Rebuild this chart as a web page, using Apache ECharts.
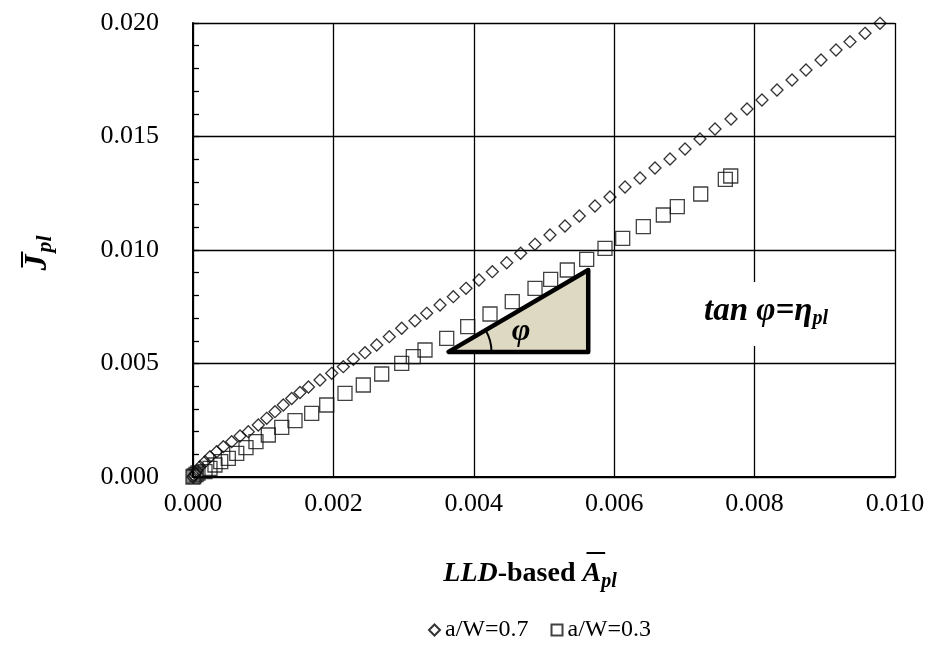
<!DOCTYPE html>
<html><head><meta charset="utf-8">
<script src="https://cdn.jsdelivr.net/npm/echarts/dist/echarts.min.js"></script>
<style>html,body{margin:0;padding:0;background:#fff}#c{width:931px;height:653px}</style>
</head><body><div id="c"></div>
<script>
const xTickLabels = ['0.000','0.002','0.004','0.006','0.008','0.010'];
const yTickLabels = ['0.000','0.005','0.010','0.015','0.020'];
const seriesNames = ['a/W=0.7','a/W=0.3'];
const aw07X = [0, 0.000014, 0.000036, 0.000057, 0.0001, 0.000171, 0.000242, 0.000338, 0.000432, 0.000551, 0.00067, 0.000788, 0.00093, 0.00105, 0.001168, 0.001286, 0.001406, 0.001524, 0.001645, 0.001809, 0.001976, 0.002141, 0.002284, 0.00245, 0.002617, 0.002796, 0.002973, 0.003162, 0.003329, 0.003519, 0.003708, 0.003889, 0.004074, 0.004264, 0.004469, 0.004668, 0.004872, 0.005085, 0.005299, 0.005503, 0.005726, 0.00594, 0.006154, 0.006368, 0.006581, 0.006795, 0.007009, 0.007222, 0.007436, 0.007664, 0.007892, 0.008105, 0.008319, 0.008533, 0.008732, 0.008946, 0.00916, 0.009359, 0.009573, 0.009786];
const aw07Y = [0, 0.000066, 0.000154, 0.000264, 0.000454, 0.000674, 0.000894, 0.001115, 0.001335, 0.001555, 0.001806, 0.001996, 0.002291, 0.002586, 0.002877, 0.003172, 0.003458, 0.003722, 0.003965, 0.004273, 0.004568, 0.004859, 0.005185, 0.005476, 0.005815, 0.006181, 0.006551, 0.006885, 0.007211, 0.007577, 0.007943, 0.008313, 0.008678, 0.009044, 0.00944, 0.009855, 0.010251, 0.010661, 0.011057, 0.011498, 0.011938, 0.012335, 0.012775, 0.013172, 0.013612, 0.014009, 0.014449, 0.01489, 0.01533, 0.015771, 0.016211, 0.016608, 0.017048, 0.017489, 0.01793, 0.01837, 0.018811, 0.019176, 0.019546, 0.019987];
const aw03X = [0, 0.000014, 0.000043, 0.000071, 0.000171, 0.000242, 0.000313, 0.000395, 0.000503, 0.000623, 0.000755, 0.000897, 0.001073, 0.001264, 0.001453, 0.001691, 0.001905, 0.002165, 0.002426, 0.002688, 0.002973, 0.003138, 0.003305, 0.003614, 0.003913, 0.004231, 0.004548, 0.004872, 0.005095, 0.005332, 0.005608, 0.005869, 0.006121, 0.006415, 0.0067, 0.006899, 0.007232, 0.007583, 0.00766];
const aw03Y = [0, 0.000044, 0.00011, 0.000176, 0.000233, 0.000383, 0.000529, 0.000674, 0.000824, 0.001044, 0.001291, 0.001555, 0.00185, 0.002189, 0.00248, 0.002806, 0.003172, 0.003687, 0.004053, 0.004537, 0.005009, 0.0053, 0.005595, 0.00611, 0.006621, 0.007181, 0.007722, 0.008313, 0.008709, 0.009119, 0.00959, 0.010075, 0.010515, 0.011026, 0.011542, 0.011907, 0.012467, 0.013115, 0.01326];
const triangleX = [0.00364, 0.00563, 0.00563];
const triangleY = [0.00551, 0.00551, 0.00912];

const FF = '"Liberation Serif","Times New Roman",serif';
const mctx = document.createElement('canvas').getContext('2d');
function mw(font, t){ mctx.font = font; return mctx.measureText(t).width; }
function fnt(style, weight, size){ return style + ' ' + weight + ' ' + size + 'px ' + FF; }

function lineGraphics(parts, cx, cy, overY){
  let total = 0;
  parts.forEach(p=>{ p.width = mw(fnt(p.st,p.w,p.s), p.t); total += p.width; });
  let x = cx - total/2;
  const out = [];
  parts.forEach(p=>{
    out.push({type:'text', x:x, y:cy + p.dy, style:{text:p.t, fontFamily:FF, fontSize:p.s, fontWeight:p.w, fontStyle:p.st, fill:'#000', align:'left', verticalAlign:'middle'}});
    if (p.over) out.push({type:'rect', shape:{x:x+4, y:cy - overY, width:p.width, height:2}, style:{fill:'#000'}});
    x += p.width;
  });
  return out;
}
const xTitle = lineGraphics([
  {t:'LLD', st:'italic', w:'bold', s:28, dy:0},
  {t:'-based ', st:'normal', w:'bold', s:28, dy:0},
  {t:'A', st:'italic', w:'bold', s:28, dy:0, over:true},
  {t:'pl', st:'italic', w:'bold', s:20, dy:8}
], 530, 574, 22);
const tanText = lineGraphics([
  {t:'tan φ=η', st:'italic', w:'bold', s:33, dy:0},
  {t:'pl', st:'italic', w:'bold', s:20, dy:8}
], 766, 311, 0);

// y-axis title (rotated)
const jF = fnt('italic','bold',32), plF = fnt('italic','bold',22);
const wJ = mw(jF,'J'), wPl = mw(plF,'pl');
const yTotal = wJ + wPl + 2;
const yTitle = {type:'group', x:38, y:253 + yTotal/2, rotation: Math.PI/2, children:[
  {type:'text', x:0, y:0, style:{text:'J', fontFamily:FF, fontSize:32, fontWeight:'bold', fontStyle:'italic', fill:'#000', align:'left', verticalAlign:'middle'}},
  {type:'text', x:wJ+2, y:7, style:{text:'pl', fontFamily:FF, fontSize:22, fontWeight:'bold', fontStyle:'italic', fill:'#000', align:'left', verticalAlign:'middle'}},
  {type:'rect', shape:{x:3, y:-17, width:wJ, height:2}, style:{fill:'#000'}}
]};

const chart = echarts.init(document.getElementById('c'), null, {renderer:'canvas'});
const axisFont = {fontFamily:FF, fontSize:26, color:'#000'};
chart.setOption({
  animation:false,
  backgroundColor:'#fff',
  grid:{left:193, right:36, top:23, bottom:176},
  xAxis:{type:'value', min:0, max:0.01, interval:0.002,
    axisLine:{show:true, lineStyle:{color:'#000', width:2}},
    axisTick:{show:false},
    splitLine:{show:true, lineStyle:{color:'#000', width:1.3}},
    axisLabel:{...axisFont, margin:14, formatter:v=>xTickLabels[Math.round(v/0.002)]}
  },
  yAxis:{type:'value', min:0, max:0.02, interval:0.005,
    axisLine:{show:true, lineStyle:{color:'#000', width:2}},
    axisTick:{show:true, inside:true, length:6, lineStyle:{color:'#000', width:1.3}},
    minorTick:{show:true, splitNumber:5, length:6, lineStyle:{color:'#000', width:1.3}},
    splitLine:{show:true, lineStyle:{color:'#000', width:1.3}},
    axisLabel:{...axisFont, margin:34, formatter:v=>yTickLabels[Math.round(v/0.005)]}
  },
  legend:{data:seriesNames, left:423, top:613, itemWidth:11, itemHeight:11, itemGap:22,
    textStyle:{fontFamily:FF, fontSize:24, color:'#000'}},
  graphic: [yTitle].concat(xTitle).concat([
    {type:'rect', shape:{x:675, y:282, width:185, height:64}, style:{fill:'#fff'}, z:5}
  ]).concat(tanText.map(g=>Object.assign(g,{z:6}))),
  series:[
    {name:seriesNames[0], type:'scatter', symbol:'diamond', symbolSize:12,
      itemStyle:{color:'rgba(0,0,0,0)', borderColor:'#000', borderWidth:1.3},
      data: aw07X.map((x,i)=>[x, aw07Y[i]]), z:2},
    {name:seriesNames[1], type:'scatter', symbol:'rect', symbolSize:14,
      itemStyle:{color:'rgba(0,0,0,0)', borderColor:'#111', borderWidth:1.3},
      data: aw03X.map((x,i)=>[x, aw03Y[i]]), z:3},
    {name:'triangle', type:'custom', silent:true, z:4,
      data:[[triangleX[0], triangleY[0]]],
      renderItem:function(params, api){
        const pts = triangleX.map((x,i)=>api.coord([x, triangleY[i]]));
        const ang = Math.atan2(pts[1][1]-pts[2][1], pts[1][0]-pts[0][0]);
        return {type:'group', children:[
          {type:'polygon', shape:{points:pts}, style:{fill:'#DDD9C3', stroke:'#000', lineWidth:4.5, lineJoin:'round'}},
          {type:'arc', shape:{cx:pts[0][0], cy:pts[0][1], r:43, startAngle:-ang, endAngle:0, clockwise:true}, style:{fill:null, stroke:'#000', lineWidth:2}},
          {type:'text', x:pts[0][0] + 0.52*(pts[1][0]-pts[0][0]), y:pts[0][1] - 20,
            style:{text:'φ', fontFamily:FF, fontSize:32, fontWeight:'bold', fontStyle:'italic', fill:'#000', align:'center', verticalAlign:'middle'}}
        ]};
      }
    }
  ]
});
</script></body></html>
